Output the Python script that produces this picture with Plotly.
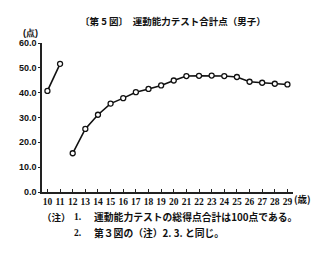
import plotly.graph_objects as go

ages_a = [10, 11]
score_a = [40.7, 51.6]
ages_b = [12, 13, 14, 15, 16, 17, 18, 19, 20, 21, 22, 23, 24, 25, 26, 27, 28, 29]
score_b = [15.6, 25.4, 31.1, 35.6, 37.8, 40.2, 41.5, 42.9, 44.9, 46.7, 46.8, 46.9,
           46.7, 46.3, 44.4, 44.0, 43.6, 43.3]
y_ticks = [0, 10, 20, 30, 40, 50, 60]
x_ticks = list(range(10, 30))

W, H = 330, 256
L, R, T, B = 42, 37, 43, 64
pw, ph = W - L - R, H - T - B

def px(x):
    return (x - L) / pw

def py(y):
    return (H - B - y) / ph

line = dict(color="#111111", width=1.6)

fig = go.Figure()
for xs, ys in [(ages_a, score_a), (ages_b, score_b)]:
    fig.add_trace(go.Scatter(x=xs, y=ys, mode="lines+markers", line=line,
                             marker=dict(symbol="circle", size=5, color="white",
                                         line=dict(width=1.3, color="#111111")),
                             showlegend=False, cliponaxis=False))

fig.update_layout(
    width=W, height=H,
    margin=dict(l=L, r=R, t=T, b=B),
    paper_bgcolor="white", plot_bgcolor="white",
    font=dict(family="Noto Sans CJK JP", color="#111111"),
    xaxis=dict(range=[9.57, 29.44], tickvals=x_ticks, showgrid=False, zeroline=False,
               showline=True, linecolor="#222222", linewidth=1.5,
               ticks="inside", ticklen=3, tickcolor="#222222",
               tickfont=dict(family="Liberation Serif", size=9.5, color="#111111",
                             weight="bold")),
    yaxis=dict(range=[0, 60], tickvals=y_ticks, tickformat=".1f", showgrid=False,
               zeroline=False, showline=True, linecolor="#222222", linewidth=1.5,
               ticks="outside", ticklen=2, tickcolor="#222222",
               tickfont=dict(family="Liberation Sans", size=9, color="#111111",
                             weight="bold")),
)

def ann(text, x, y, size=10, anchor="left", family="Noto Sans CJK JP", weight="normal"):
    fig.add_annotation(text=text, x=px(x), y=py(y), xref="paper", yref="paper",
                       showarrow=False, xanchor=anchor, yanchor="middle",
                       font=dict(size=size, family=family, color="#111111", weight=weight))

ann("〔第 5 図〕　運動能力テスト合計点（男子）", 173, 21, size=9.5, anchor="center", weight="bold")
ann("(点)", 30, 33, size=9, anchor="center", family="Liberation Sans", weight="bold")
ann("(歳)", 292, 199, size=9.5, anchor="left", weight="bold")
ann("（注）", 40, 217, size=9.5, weight="bold")
ann("1.", 72, 217, size=9.5, family="Liberation Serif", weight="bold")
ann("運動能力テストの総得点合計は100点である。", 92, 217, size=9.8, weight="bold")
ann("2.", 72, 233, size=9.5, family="Liberation Serif", weight="bold")
ann("第３図の（注）2. 3. と同じ。", 92, 233, size=9.8, weight="bold")

fig.write_html("out.html")
